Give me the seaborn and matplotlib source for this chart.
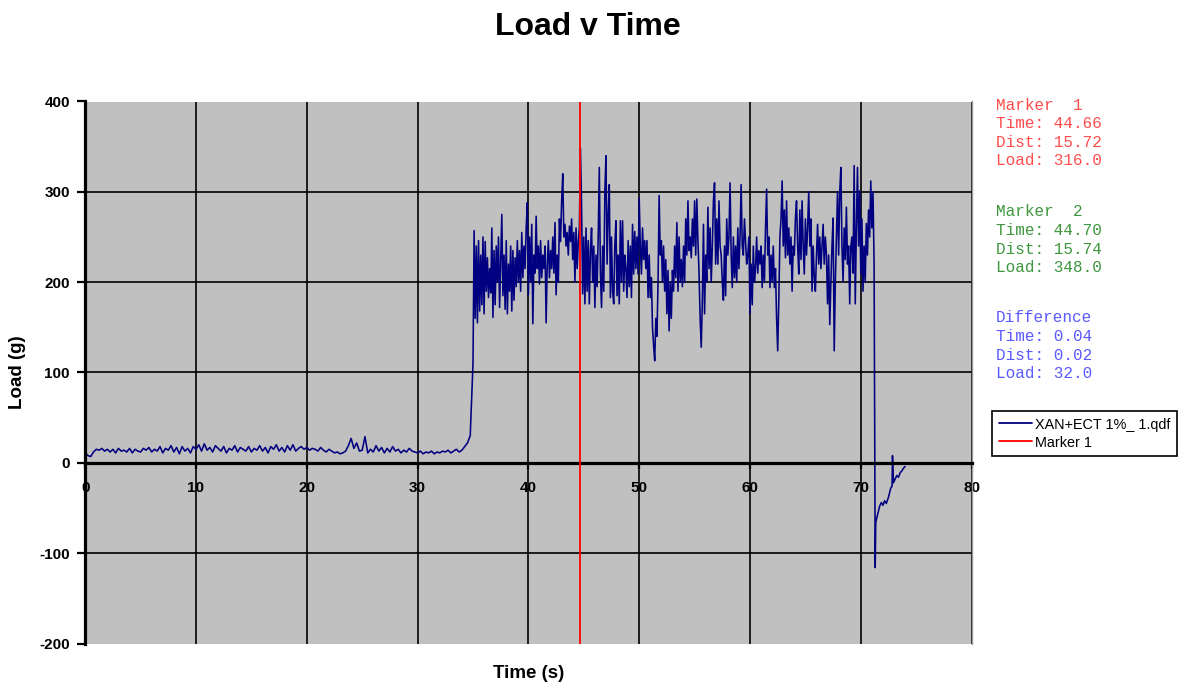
import numpy as np
import pandas as pd
import matplotlib
matplotlib.use("Agg")
import matplotlib.pyplot as plt
import seaborn as sns
from matplotlib.lines import Line2D

# ---------------- data ----------------
SERIES_NAME = "XAN+ECT 1%_ 1.qdf"

# idle phase, sampled every 0.25 s from t = 0
BASE_START, BASE_STEP = 0.0, 0.25
base_load = [
    11, 8, 7, 12, 15, 14, 16, 13, 15, 12,
    15, 11, 16, 13, 14, 12, 16, 11, 15, 13,
    12, 16, 14, 17, 12, 15, 13, 18, 11, 16,
    14, 19, 12, 17, 10, 18, 13, 16, 11, 18,
    15, 20, 13, 21, 14, 17, 12, 19, 16, 13,
    18, 11, 16, 14, 19, 12, 17, 15, 13, 18,
    12, 16, 14, 19, 13, 17, 11, 18, 15, 20,
    13, 17, 12, 19, 14, 20, 13, 16, 18, 15,
    17, 14, 16, 15, 13, 17, 14, 12, 15, 13,
    11, 12, 10, 11, 13, 19, 27, 16, 22, 13,
    14, 29, 11, 15, 12, 19, 13, 17, 11, 16,
    12, 18, 13, 15, 11, 14, 12, 16, 13, 12,
    11, 13, 10, 12, 11, 13, 10, 12, 11, 13,
    12, 14, 11, 13, 15, 12, 14, 18, 22, 30,
]

# loaded phase, sampled every 0.1 s from t = 35.0
ACTIVE_START, ACTIVE_STEP = 35.0, 0.1
active_load = [
    110, 257, 160, 240, 155, 246, 168, 230, 175, 250,
    165, 245, 190, 227, 183, 215, 188, 260, 161, 235,
    175, 240, 200, 250, 172, 225, 275, 185, 230, 170,
    246, 165, 220, 190, 240, 168, 235, 180, 227, 195,
    246, 200, 235, 190, 255, 205, 240, 215, 260, 288,
    186, 250, 200, 264, 154, 230, 210, 273, 215, 240,
    198, 246, 205, 230, 215, 240, 155, 220, 246, 205,
    235, 215, 250, 210, 266, 186, 230, 200, 270, 245,
    290, 320, 250, 264, 240, 255, 230, 262, 245, 270,
    225, 255, 200, 260, 215, 245, 260, 348, 283, 187,
    250, 176, 260, 190, 246, 176, 235, 260, 200, 240,
    172, 230, 195, 250, 327, 210, 172, 240, 190, 300,
    340, 220, 275, 308, 183, 250, 190, 176, 240, 268,
    185, 230, 176, 268, 200, 268, 190, 230, 215, 183,
    246, 195, 240, 183, 264, 209, 256, 215, 250, 209,
    293, 240, 209, 260, 225, 246, 215, 246, 183, 230,
    183, 205, 150, 130, 113, 160, 140, 200, 296, 230,
    246, 200, 240, 190, 225, 165, 213, 146, 200, 160,
    213, 190, 240, 205, 266, 190, 250, 200, 225, 195,
    240, 200, 270, 230, 290, 235, 250, 227, 270, 240,
    290, 230, 292, 246, 210, 160, 128, 180, 264, 165,
    230, 200, 283, 215, 260, 200, 240, 290, 310, 220,
    270, 220, 290, 240, 230, 200, 180, 240, 185, 270,
    230, 250, 310, 230, 194, 250, 205, 240, 200, 260,
    215, 250, 308, 240, 230, 270, 246, 220, 230, 250,
    165, 220, 175, 240, 200, 215, 250, 210, 235, 220,
    240, 194, 230, 200, 260, 303, 230, 250, 194, 230,
    200, 240, 194, 215, 160, 124, 180, 250, 270, 312,
    240, 280, 227, 290, 230, 260, 220, 250, 190, 240,
    230, 271, 290, 240, 209, 280, 225, 290, 240, 209,
    270, 230, 260, 300, 240, 270, 190, 240, 205, 190,
    230, 264, 220, 250, 215, 240, 264, 220, 250, 230,
    176, 230, 153, 200, 240, 271, 124, 200, 250, 300,
    230, 300, 327, 240, 201, 260, 225, 283, 220, 240,
    176, 240, 250, 210, 329, 176, 260, 327, 240, 301,
    209, 270, 190, 240, 200, 265, 230, 280, 250, 312,
    260, 300, 220,
]

# release and rebound
tail_time = [71.30, 71.35, 71.50, 71.70, 71.85, 72.00, 72.15, 72.30, 72.50, 72.70,
             72.82, 72.86, 72.95, 73.10, 73.25, 73.40, 73.55, 73.70, 73.85, 74.00]
tail_load = [-116, -66, -58, -48, -44, -47, -42, -45, -38, -28,
             -26, 8, -22, -18, -14, -16, -11, -9, -6, -4]

# cursor readouts
MARKER1_TIME, MARKER1_DIST, MARKER1_LOAD = 44.66, 15.72, 316.0
MARKER2_TIME, MARKER2_DIST, MARKER2_LOAD = 44.70, 15.74, 348.0

x_ticks = [0, 10, 20, 30, 40, 50, 60, 70, 80]
y_ticks = [-200, -100, 0, 100, 200, 300, 400]

# ---------------- assemble series ----------------
base_time = BASE_START + BASE_STEP * np.arange(len(base_load))
active_time = ACTIVE_START + ACTIVE_STEP * np.arange(len(active_load))
time = np.concatenate([base_time, active_time, [MARKER1_TIME], tail_time])
load = np.concatenate([base_load, active_load, [MARKER1_LOAD], tail_load]).astype(float)
order = np.argsort(time, kind="stable")
df = pd.DataFrame({"time": time[order], "load": load[order]})

# ---------------- figure ----------------
sns.set_style("white")
plt.rcParams["font.family"] = ["Liberation Sans", "DejaVu Sans"]
plt.rcParams["axes.unicode_minus"] = False
plt.rcParams["text.color"] = "black"
plt.rcParams["axes.labelcolor"] = "black"

W, H = 1183, 685
fig = plt.figure(figsize=(W / 100, H / 100), dpi=100)
L, R, T, B = 85.2, 971.6, 101.5, 643.5
ax = fig.add_axes([L / W, 1 - B / H, (R - L) / W, (B - T) / H])
ax.set_facecolor("#c0c0c0")

sns.lineplot(data=df, x="time", y="load", ax=ax, color="#000080",
             linewidth=1.15, estimator=None, sort=False, legend=False)
ax.axvline(MARKER1_TIME, color="#ff0000", lw=1.3, zorder=3)

ax.set_xlim(0, 80)
ax.set_ylim(-200, 400)
ax.set_xticks(x_ticks)
ax.set_yticks(y_ticks)

ax.set_axisbelow(True)
ax.grid(True, color="black", lw=1.2)
for ln, v in zip(ax.get_xgridlines(), x_ticks):
    if v in (0, 80):
        ln.set_visible(False)
for ln, v in zip(ax.get_ygridlines(), y_ticks):
    if v in (-200, 0, 400):
        ln.set_visible(False)

ax.spines["bottom"].set_position(("data", 0))
ax.spines["bottom"].set_linewidth(2.3)
ax.spines["bottom"].set_color("black")
ax.spines["left"].set_linewidth(2.3)
ax.spines["left"].set_color("black")
ax.spines["top"].set_visible(False)
ax.spines["right"].set_color("#9a9a9a")
ax.spines["right"].set_linewidth(1.0)

ax.tick_params(axis="x", direction="out", length=4, width=1.6, pad=9,
               labelsize=11, colors="black", bottom=True)
ax.tick_params(axis="y", direction="out", length=6, width=1.6, pad=5,
               labelsize=11, colors="black", left=True)
for lab in ax.get_xticklabels() + ax.get_yticklabels():
    lab.set_fontweight("bold")

ax.set_xlabel("Time (s)", fontsize=13.5, fontweight="bold", va="center",
              color="black")
ax.xaxis.set_label_coords(0.5, (B - 673) / (B - T))
ax.set_ylabel("Load (g)", fontsize=13.5, fontweight="bold", va="center",
              color="black")
ax.yaxis.set_label_coords((18 - L) / (R - L), 0.5)

fig.text(588 / W, 1 - 27 / H, "Load v Time", ha="center", va="center",
         fontsize=23, fontweight="bold", color="black")

# cursor readout blocks
blocks = [
    ("#ff4d4d", ["Marker  1",
                 f"Time: {MARKER1_TIME:.2f}",
                 f"Dist: {MARKER1_DIST:.2f}",
                 f"Load: {MARKER1_LOAD:.1f}"]),
    ("#3f963f", ["Marker  2",
                 f"Time: {MARKER2_TIME:.2f}",
                 f"Dist: {MARKER2_DIST:.2f}",
                 f"Load: {MARKER2_LOAD:.1f}"]),
    ("#5a5aff", ["Difference",
                 f"Time: {MARKER2_TIME - MARKER1_TIME:.2f}",
                 f"Dist: {MARKER2_DIST - MARKER1_DIST:.2f}",
                 f"Load: {MARKER2_LOAD - MARKER1_LOAD:.1f}"]),
]
block_tops = [105, 212, 318]
line_step = 18.6
for (color, lines), top in zip(blocks, block_tops):
    for i, txt in enumerate(lines):
        fig.text(996 / W, 1 - (top + i * line_step) / H, txt, ha="left",
                 va="center", color=color, fontsize=11.5,
                 family=["Liberation Mono", "DejaVu Sans Mono"])

handles = [Line2D([], [], color="#000080", lw=1.3),
           Line2D([], [], color="#ff0000", lw=1.3)]
leg = fig.legend(handles, [SERIES_NAME, "Marker 1"], loc="upper left",
                 bbox_to_anchor=(992 / W, 1 - 411 / H), frameon=True,
                 fancybox=False, edgecolor="black", facecolor="white",
                 framealpha=1, fontsize=10.4, handlelength=2.3,
                 handletextpad=0.25, labelspacing=0.28, borderpad=0.45,
                 borderaxespad=0)
leg.get_frame().set_linewidth(1.2)
for t in leg.get_texts():
    t.set_color("black")

fig.savefig("out.png", dpi=100, facecolor="white")
